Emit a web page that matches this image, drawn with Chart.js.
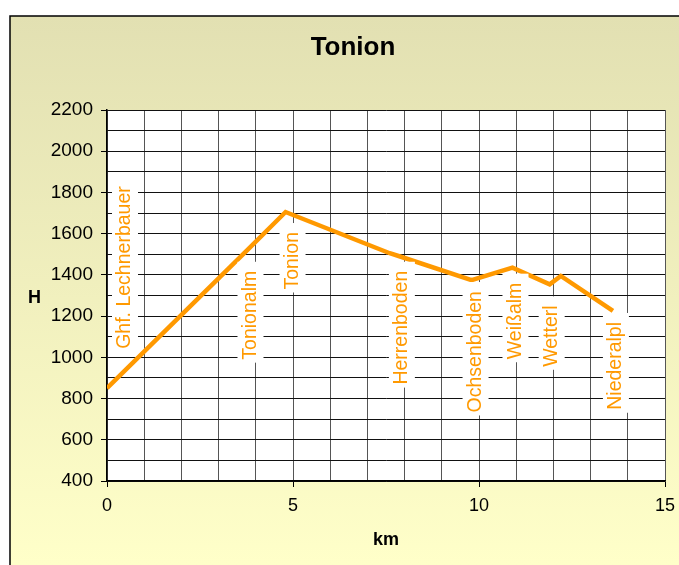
<!DOCTYPE html>
<html>
<head>
<meta charset="utf-8">
<script src="https://cdn.jsdelivr.net/npm/chart.js@4"></script>
<style>
  html, body { margin: 0; padding: 0; background: #fff; }
  #wrap { width: 679px; height: 565px; }
</style>
</head>
<body>
<div id="wrap"><canvas id="myChart" width="679" height="565"></canvas></div>
<script>
// Daten
const km = [0, 3.75, 4.8, 7.6, 7.9, 9.8, 10.9, 11.9, 12.2, 13.6]
const hoehe = [850, 1517, 1705, 1505, 1488, 1375, 1435, 1354, 1395, 1225]
const orte = ['Ghf. Lechnerbauer', 'Tonionalm', 'Tonion', '', 'Herrenboden', 'Ochsenboden', 'Weißalm', 'Wetterl', '', 'Niederalpl']

const titel = 'Tonion'
const xTitel = 'km'
const yTitel = 'H'

const schrift = "'Liberation Sans', Arial, sans-serif"
const orange = '#ff9900'

// Hintergrund + Rahmen
const hintergrund = {
  id: 'hintergrund',
  beforeDraw(chart) {
    const c = chart.ctx
    const a = chart.chartArea
    c.save()
    c.fillStyle = '#fff'
    c.fillRect(0, 0, chart.width, chart.height)
    const g = c.createLinearGradient(0, 16, 0, chart.height)
    g.addColorStop(0, '#e2e0b2')
    g.addColorStop(1, '#ffffc9')
    c.fillStyle = g
    c.fillRect(10, 16, chart.width - 10, chart.height - 16)
    c.strokeStyle = '#000'
    c.lineWidth = 1.5
    c.beginPath()
    c.moveTo(10, chart.height)
    c.lineTo(10, 16)
    c.lineTo(chart.width, 16)
    c.stroke()
    c.fillStyle = '#fff'
    c.fillRect(a.left, a.top, a.right - a.left, a.bottom - a.top)
    c.restore()
  },
  afterDraw(chart) {
    const c = chart.ctx
    c.save()
    c.fillStyle = '#000'
    c.textAlign = 'center'
    c.textBaseline = 'alphabetic'
    c.font = 'bold 26px ' + schrift
    c.fillText(titel, 353, 54.5)
    c.font = 'bold 18px ' + schrift
    c.fillText(yTitel, 34.5, 302.5)
    c.restore()
  }
}

// Beschriftungen der Orte (gedreht, weisser Kasten)
const ortLabels = {
  id: 'ortLabels',
  afterDatasetsDraw(chart, args, opts) {
    const c = chart.ctx
    const meta = chart.getDatasetMeta(0)
    c.save()
    c.font = '19.5px ' + schrift
    orte.forEach((name, i) => {
      if (!name) return
      const p = meta.data[i]
      const off = opts.offsets[i] || [3, 16]
      c.save()
      c.translate(p.x + off[0], p.y + off[1])
      c.rotate(-Math.PI / 2)
      const w = c.measureText(name).width
      c.fillStyle = '#fff'
      c.fillRect(-w - 3, -13, w + 12, 26)
      c.fillStyle = orange
      c.textAlign = 'right'
      c.textBaseline = 'middle'
      c.fillText(name, 0, 0)
      c.restore()
    })
    c.restore()
  }
}

const ctx = document.getElementById('myChart')

const data = {
  datasets: [{
    data: km.map((k, i) => ({ x: k, y: hoehe[i] })),
    borderColor: orange,
    borderWidth: 4.5,
    pointRadius: 0,
    tension: 0,
    fill: false
  }]
}

const config = {
  type: 'line',
  data: data,
  plugins: [hintergrund, ortLabels],
  options: {
    responsive: false,
    animation: false,
    layout: { padding: { left: 0, right: 14, top: 110, bottom: 0 } },
    plugins: {
      legend: { display: false },
      title: { display: false },
      tooltip: { enabled: false },
      ortLabels: {
        offsets: { 0: [18, -202], 1: [4, 20], 2: [7, 20], 4: [1, 14], 5: [4, 11], 6: [3, 15], 7: [2, 21], 9: [3, 11] }
      }
    },
    scales: {
      x: {
        type: 'linear',
        min: 0,
        max: 15,
        afterFit(s) {
          s.height = 84
          s.paddingLeft = 0
          s.paddingRight = 0
        },
        ticks: {
          stepSize: 1,
          autoSkip: false,
          maxRotation: 0,
          padding: 8,
          color: '#000',
          font: { family: schrift, size: 18 },
          callback: v => (v % 5 === 0 ? v : '')
        },
        grid: {
          color: '#555',
          lineWidth: 1,
          tickLength: 6,
          tickColor: c => (c.tick && c.tick.value % 5 === 0 ? '#000' : 'rgba(0,0,0,0)')
        },
        border: { color: '#000', width: 1.5 },
        title: {
          display: true,
          text: xTitel,
          color: '#000',
          font: { family: schrift, size: 18, weight: 'bold' },
          padding: { top: 0, bottom: 14 }
        }
      },
      y: {
        min: 400,
        max: 2200,
        afterFit(s) {
          s.width = 107
          s.paddingTop = 0
          s.paddingBottom = 0
        },
        ticks: {
          stepSize: 100,
          autoSkip: false,
          padding: 8,
          color: '#000',
          font: { family: schrift, size: 19 },
          callback: v => (v % 200 === 0 ? v : '')
        },
        grid: {
          color: '#111',
          lineWidth: 1,
          tickLength: 6,
          tickColor: c => (c.tick && c.tick.value % 200 === 0 ? '#000' : 'rgba(0,0,0,0)')
        },
        border: { color: '#000', width: 1.5 }
      }
    }
  }
}

const myChart = new Chart(ctx, config)
</script>
</body>
</html>
